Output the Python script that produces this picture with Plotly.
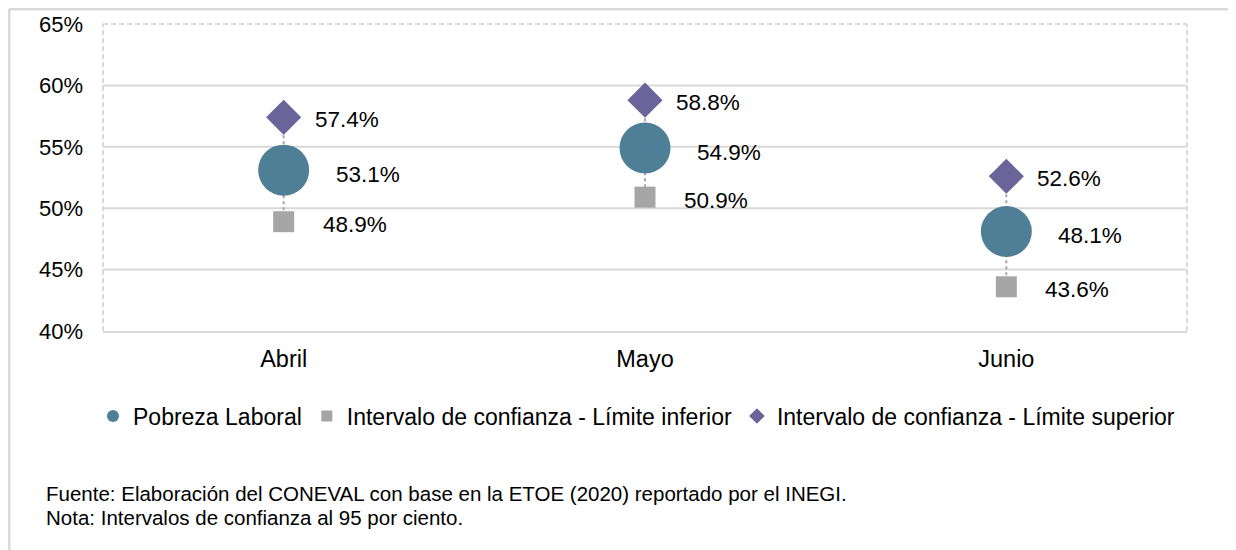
import plotly.graph_objects as go

months = ["Abril", "Mayo", "Junio"]
pobreza = [53.1, 54.9, 48.1]
lim_inf = [48.9, 50.9, 43.6]
lim_sup = [57.4, 58.8, 52.6]
y_ticks = [40, 45, 50, 55, 60, 65]
y_tick_labels = ["40%", "45%", "50%", "55%", "60%", "65%"]

FONT = "Arial, Liberation Sans, sans-serif"
C_CIRC = "#4E7F97"
C_SQ = "#A6A6A6"
C_DIA = "#6A649B"
GRID = "#D9D9D9"

# page is offset by the default 8px body margin; geometry below is in figure px
OFF = 8
L, R, T, B = 103 - OFF, 1187 - OFF, 24 - OFF, 331 - OFF
W, H = 1236, 550
def px_x(px):
    return (px - OFF - L) / (R - L)
def px_y(py):
    return (B - (py - OFF)) / (B - T)

fig = go.Figure()

# dotted connectors
cx, cy = [], []
for m, lo, hi in zip(months, lim_inf, lim_sup):
    cx += [m, m, None]
    cy += [hi, lo, None]
fig.add_trace(go.Scatter(x=cx, y=cy, mode="lines", showlegend=False, hoverinfo="skip",
                         line=dict(color=C_SQ, width=2, dash="dot")))

fig.add_trace(go.Scatter(x=months, y=pobreza, mode="markers", showlegend=False,
                         marker=dict(symbol="circle", size=51, color=C_CIRC)))
fig.add_trace(go.Scatter(x=months, y=lim_inf, mode="markers", showlegend=False,
                         marker=dict(symbol="square", size=21, color=C_SQ)))
fig.add_trace(go.Scatter(x=months, y=lim_sup, mode="markers", showlegend=False,
                         marker=dict(symbol="diamond", size=27, color=C_DIA)))

# legend entries
fig.add_trace(go.Scatter(x=[None], y=[None], mode="markers", name="Pobreza Laboral",
                         marker=dict(symbol="circle", size=12, color=C_CIRC)))
fig.add_trace(go.Scatter(x=[None], y=[None], mode="markers", name="Intervalo de confianza - Límite inferior",
                         marker=dict(symbol="square", size=11, color=C_SQ)))
fig.add_trace(go.Scatter(x=[None], y=[None], mode="markers", name="Intervalo de confianza - Límite superior",
                         marker=dict(symbol="diamond", size=12, color=C_DIA)))

annotations = []
for series, xs, ys in [(lim_sup, 29, -2), (pobreza, 50, -4), (lim_inf, 37, -3)]:
    for m, v in zip(months, series):
        annotations.append(dict(x=m, y=v, xref="x", yref="y", text=f"{v:.1f}%",
                                showarrow=False, xanchor="left", yanchor="middle",
                                xshift=xs, yshift=ys,
                                font=dict(size=22.5, color="#000000", family=FONT)))

for txt, py in [("Fuente: Elaboración del CONEVAL con base en la ETOE (2020) reportado por el INEGI.", 493.5),
                ("Nota: Intervalos de confianza al 95 por ciento.", 517.5)]:
    annotations.append(dict(x=px_x(44), y=px_y(py), xref="paper", yref="paper", showarrow=False,
                            xanchor="left", yanchor="middle", text=txt,
                            font=dict(size=20.5, color="#000000", family=FONT)))

shapes = []
# horizontal gridlines (solid)
for v in y_ticks[1:-1]:
    shapes.append(dict(type="line", xref="paper", yref="y", x0=0, x1=1, y0=v, y1=v,
                       line=dict(color=GRID, width=2), layer="below"))
# dashed plot border top/left/right
dash = "5px,3px"
shapes.append(dict(type="line", xref="paper", yref="paper", x0=0, x1=1, y0=1, y1=1,
                   line=dict(color=GRID, width=2, dash=dash), layer="below"))
shapes.append(dict(type="line", xref="paper", yref="paper", x0=0, x1=0, y0=0, y1=1,
                   line=dict(color=GRID, width=2, dash=dash), layer="below"))
shapes.append(dict(type="line", xref="paper", yref="paper", x0=1, x1=1, y0=0, y1=1,
                   line=dict(color=GRID, width=2, dash=dash), layer="below"))
# outer frame (top and left), at the very edge of the figure
fx0 = (1 - L) / (R - L)
fy0 = (B - 1) / (B - T)
shapes.append(dict(type="line", xref="paper", yref="paper", x0=fx0, x1=px_x(1260), y0=fy0, y1=fy0,
                   line=dict(color=GRID, width=3)))
shapes.append(dict(type="line", xref="paper", yref="paper", x0=fx0, x1=fx0, y0=fy0, y1=px_y(570),
                   line=dict(color=GRID, width=3)))

fig.update_layout(
    width=W, height=H,
    margin=dict(l=L, r=W - R, t=T, b=H - B, autoexpand=False),
    paper_bgcolor="white", plot_bgcolor="white",
    font=dict(family=FONT, size=22, color="#000000"),
    showlegend=True,
    legend=dict(orientation="h", x=px_x(93), xanchor="left", y=px_y(416), yanchor="middle",
                font=dict(size=23, family=FONT, color="#000000"),
                itemwidth=30, tracegroupgap=0, bgcolor="rgba(0,0,0,0)"),
    xaxis=dict(type="category", range=[-0.5, 2.5], showgrid=False, zeroline=False,
               showline=True, linecolor=GRID, linewidth=2, automargin=False,
               ticks="", ticklabelstandoff=6,
               tickfont=dict(size=23.5, family=FONT, color="#000000")),
    yaxis=dict(range=[40, 65], tickvals=y_ticks, ticktext=y_tick_labels, showgrid=False,
               zeroline=False, showline=False, ticks="", ticklabelstandoff=19, automargin=False,
               tickfont=dict(size=22, family=FONT, color="#000000")),
    shapes=shapes,
    annotations=annotations,
)

fig.write_html("out.html")
